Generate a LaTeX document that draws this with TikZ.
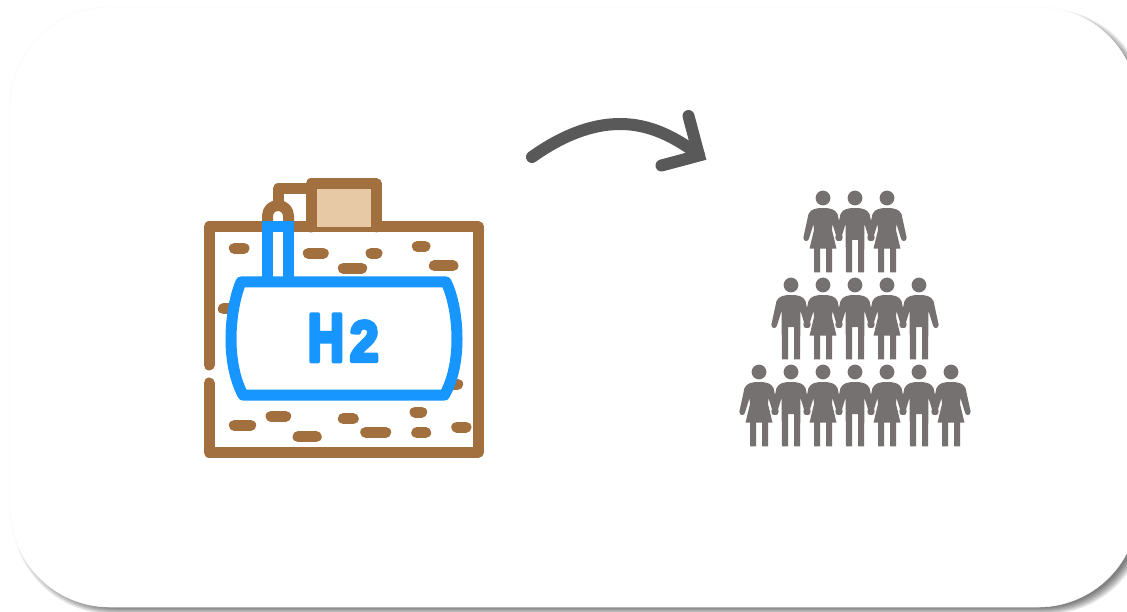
\documentclass[tikz,border=0pt]{standalone}
\usepackage{fontspec}
\setmainfont{Liberation Sans}
\font\hbig="Liberation Sans/B:embolden=7" at 66pt
\font\hsmall="Liberation Sans/B:embolden=7" at 56pt
\definecolor{brownc}{HTML}{A2703F}
\definecolor{sandc}{HTML}{E8C9A6}
\definecolor{bluec}{HTML}{1896FF}
\definecolor{greyc}{HTML}{757170}
\definecolor{arrowc}{HTML}{595959}
\tikzset{
  brownline/.style={draw=brownc,line width=11pt,line cap=round,line join=round},
  blueline/.style={draw=bluec,line width=11pt,line cap=round,line join=round},
  stonedash/.style={draw=brownc,line width=11pt,line cap=round},
  man/.pic={
    \fill[greyc] (0,0) circle (7.4);
    \fill[greyc] (0,10) .. controls (7,10) and (12,11) .. (14.5,16) -- (19.6,39.5) .. controls (20,44) and (14.5,44) .. (14,40.5) -- (9.5,26) -- (9,74.3) -- (3,74.3) -- (3,42) -- (-3,42) -- (-3,74.3) -- (-9,74.3) -- (-9.5,26) -- (-14,40.5) .. controls (-14.5,44) and (-20,44) .. (-19.6,39.5) -- (-14.5,16) .. controls (-12,11) and (-7,10) .. (0,10) -- cycle;
  },
  woman/.pic={
    \fill[greyc] (0,0) circle (7.4);
    \fill[greyc] (0,10) .. controls (7,10) and (12,11) .. (14.5,16) -- (19.6,39.5) .. controls (20,44) and (14.5,44) .. (14,40.5) -- (9.5,26) -- (9,32) -- (13.5,50.7) -- (9,50.7) -- (9,74.3) -- (3,74.3) -- (3,50.7) -- (-3,50.7) -- (-3,74.3) -- (-9,74.3) -- (-9,50.7) -- (-13.5,50.7) -- (-9,32) -- (-9.5,26) -- (-14,40.5) .. controls (-14.5,44) and (-20,44) .. (-19.6,39.5) -- (-14.5,16) .. controls (-12,11) and (-7,10) .. (0,10) -- cycle;
  }
}
\begin{document}
\begin{tikzpicture}[x=1pt,y=-1pt]
\useasboundingbox (0,0) rectangle (1127,612);
\clip (0,0) rectangle (1127,612);
\fill[white] (0,0) rectangle (1127,612);
% soft shadow
\foreach \k in {4,3,2,1,0,-1,-2}{
  \fill[black,opacity=.09,rounded corners=100pt] (16-\k,13-\k) rectangle (1143+\k,610+\k);
}
% card
\fill[white,draw=black!2,line width=.6pt,rounded corners=100pt] (10,7) rectangle (1138,607);

% ground box
\draw[brownline] (209,365) -- (209,227) -- (478.5,227) -- (478.5,452) -- (209,452) -- (209,383);
% top box
\draw[brownline,fill=sandc] (311,227) -- (311,184) -- (376.5,184) -- (376.5,227);
\draw[brownline] (311,189) -- (278,189) -- (278,202);
\draw[brownline,line cap=butt] (267.5,226) -- (267.5,216) .. controls (267.5,210) and (272,205.5) .. (278,205.5) .. controls (284,205.5) and (288.5,210) .. (288.5,216) -- (288.5,226);
% stones
\foreach \a/\b/\c in {234.3/244/248.3,308.3/323.3/253.3,371/377/253.3,417.3/425/246.3,343.3/361.7/268.3,434.3/453/265.7,223.3/235/309,234.3/250.7/425.3,271/285.7/416.3,298/316.3/436.7,343.3/353.3/418.7,365.7/385.7/432.3,415/421.7/412,416.7/425.7/432.7,456.7/466/427,445/457.7/384}{
  \draw[stonedash] (\a,\c) -- (\b,\c);
}
% tank
\draw[blueline,fill=white] (241,282) -- (446,282) .. controls (453,296) and (457,318) .. (457,339) .. controls (457,360) and (453,380) .. (444.5,395) -- (243,395) .. controls (235,380) and (231,360) .. (231,339) .. controls (231,318) and (235,296) .. (241,282) -- cycle;
\draw[blueline,line cap=butt,line join=miter] (267.5,282) -- (267.5,227) -- (288.5,227) -- (288.5,282);
\node[text=bluec,inner sep=0pt,anchor=base west] (htwo) at (307.5,361) {\special{pdf:code 1 J 1 j}\scalebox{.76}[1.02]{\hbig H}\hspace{6pt}\scalebox{.92}[1.02]{\hsmall 2}};
% arrow
\draw[draw=arrowc,line width=12pt,line cap=round] (532,157) .. controls (560,137) and (590,124) .. (620,124) .. controls (650,124) and (675,137) .. (699,155);
\draw[draw=arrowc,line width=12pt,line cap=round,line join=miter] (688.5,116) -- (699,155.5) -- (661.5,165.5);
% people
\foreach \px/\py/\kind in {823/198/woman,855/198/man,887/198/woman,
  791/285/man,823/285/woman,855/285/man,887/285/woman,919/285/man,
  759/372/woman,791/372/man,823/372/woman,855/372/man,887/372/woman,919/372/man,951/372/woman}{
  \pic at (\px,\py) {\kind};
}
\end{tikzpicture}
\end{document}
